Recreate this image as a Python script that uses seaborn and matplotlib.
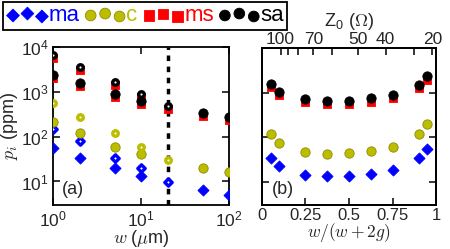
import numpy as np
import pandas as pd
import matplotlib
matplotlib.use("Agg")
import matplotlib.pyplot as plt
from matplotlib.ticker import FixedLocator, FuncFormatter, NullLocator
import seaborn as sns

# left panel: loss participation vs centre width w (um)
w_open = [1, 2, 5, 10, 20]
w_fill = [1, 2, 5, 10, 50, 100]
ma_open = [152, 81, 34, 19.5, 9.5]
ma_fill = [57, 34, 19.5, 13, 6.6, 5.1]
c_open = [575, 277, 123, 60, 29.5]
c_fill = [215, 123, 60, 42, 20.4, 16.7]
ms_open = [5600, 3000, 1400, 780, 420]
ms_fill = [2000, 1350, 780, 540, 290, 240]
sa_open = [6600, 3600, 1660, 910, 490]
sa_fill = [2400, 1580, 910, 630, 340, 280]

# right panel: vs w/(w+2g)
ratio = [0.05, 0.1, 0.25, 0.375, 0.5, 0.625, 0.75, 0.9, 0.95]
ma_r = [34, 22, 14.4, 13.2, 13.6, 14.8, 18.5, 34, 54]
c_r = [120, 74, 47, 42, 43.5, 49, 60, 115, 195]
ms_r = [1320, 900, 620, 550, 560, 630, 760, 1260, 1950]
sa_r = [1550, 1050, 730, 645, 660, 745, 890, 1480, 2300]

# impedance axis on top of right panel
z0_pos = [0.107, 0.151, 0.209, 0.295, 0.404, 0.55, 0.711, 0.875, 0.979]
z0_lab = ['100', '', '', '70', '', '50', '40', '', '20']

BLUE = '#0000ff'
YEL = '#bdbd00'
YEL_EDGE = '#8c8c00'
RED = '#ff0000'
BLK = '#000000'

sns.set_style("ticks")
plt.rcParams['font.family'] = ['Liberation Sans', 'DejaVu Sans']
plt.rcParams['mathtext.fontset'] = 'cm'
plt.rcParams['axes.linewidth'] = 1.3

fig = plt.figure(figsize=(4.5, 2.49), dpi=100)
ax1 = fig.add_axes([0.118, 0.177, 0.391, 0.634])
ax2 = fig.add_axes([0.582, 0.177, 0.387, 0.630])


def dots(ax, x, y, color, marker, s, hollow=False, edge=None):
    if hollow:
        sns.scatterplot(x=x, y=y, ax=ax, marker=marker, s=s, color='white',
                        edgecolor=color, linewidth=2.4, zorder=3)
    else:
        sns.scatterplot(x=x, y=y, ax=ax, marker=marker, s=s, color=color,
                        edgecolor=edge or color, linewidth=0.6, zorder=3)
    return ax.collections[-1]


# left panel
dots(ax1, w_fill, ma_fill, BLUE, 'D', 32)
dots(ax1, w_open, ma_open, BLUE, 'D', 14, hollow=True)
dots(ax1, w_fill, c_fill, YEL, 'o', 45, edge=YEL_EDGE)
dots(ax1, w_open, c_open, YEL, 'o', 16, hollow=True)
dots(ax1, w_fill, ms_fill, RED, 's', 40)
dots(ax1, w_open, ms_open, RED, 's', 40)
dots(ax1, w_fill, sa_fill, BLK, 'o', 45)
dots(ax1, w_open, sa_open, BLK, 'o', 16, hollow=True)
ax1.axvline(20, color='k', lw=2.5, ls=(0, (1.6, 1.6)), zorder=2)

ax1.set_xscale('log')
ax1.set_yscale('log')
ax1.set_xlim(1, 100)
ax1.set_ylim(3, 1e4)
ax1.xaxis.set_major_locator(FixedLocator([1, 10, 100]))
ax1.yaxis.set_major_locator(FixedLocator([10, 100, 1000, 10000]))
ax1.xaxis.set_minor_locator(NullLocator())
ax1.yaxis.set_minor_locator(NullLocator())
pow10 = FuncFormatter(lambda v, p: r'$\mathregular{10^{%d}}$' % round(np.log10(v)))
ax1.xaxis.set_major_formatter(pow10)
ax1.yaxis.set_major_formatter(pow10)
ax1.set_xlabel(r'$w$ ($\mu$m)', fontsize=13, labelpad=-1)
ax1.set_ylabel(r'$p_i$ (ppm)', fontsize=13, labelpad=1)
ax1.text(0.05, 0.1, '(a)', transform=ax1.transAxes, fontsize=13, va='center')

# right panel
h_ma = dots(ax2, ratio, ma_r, BLUE, 'D', 32)
h_c = dots(ax2, ratio, c_r, YEL, 'o', 45, edge=YEL_EDGE)
h_ms = dots(ax2, ratio, ms_r, RED, 's', 40)
h_sa = dots(ax2, ratio, sa_r, BLK, 'o', 45)

ax2.set_yscale('log')
ax2.set_xlim(0, 1)
ax2.set_ylim(3, 1e4)
ax2.yaxis.set_major_locator(FixedLocator([10, 100, 1000, 10000]))
ax2.yaxis.set_minor_locator(NullLocator())
ax2.set_xticks([0, 0.25, 0.5, 0.75, 1])
ax2.set_xticklabels(['0', '0.25', '0.5', '0.75', '1'])
ax2.set_xlabel(r'$w/(w+2g)$', fontsize=12.5, labelpad=-1)
ax2.set_ylabel('')
ax2.text(0.12, 0.1, '(b)', transform=ax2.transAxes, fontsize=13,
         va='center', ha='center')

top = ax2.twiny()
top.set_xlim(0, 1)
top.set_xticks(z0_pos)
top.set_xticklabels(z0_lab)
top.set_xlabel(r'Z$_\mathregular{0}$ ($\Omega$)', fontsize=13, labelpad=4)

for ax in (ax1, ax2):
    ax.tick_params(direction='in', length=5, width=1.3, labelsize=12.5,
                   top=True, right=True, pad=3)
ax2.tick_params(labelleft=False, top=False, labelsize=12, pad=2)
top.tick_params(direction='in', length=5, width=1.3, labelsize=12.5, pad=1)
for ax in (ax1, ax2, top):
    for sp in ax.spines.values():
        sp.set_color('k')
        sp.set_linewidth(1.3)

leg = fig.legend([h_ma, h_c, h_ms, h_sa], ['ma', 'c', 'ms', 'sa'],
                 loc='upper left', bbox_to_anchor=(3 / 450, 1 - 2 / 249),
                 ncol=4, fontsize=16, frameon=True, fancybox=False,
                 edgecolor='k', framealpha=1, borderpad=0.15,
                 handletextpad=0.0, columnspacing=0.2, handlelength=1.9,
                 scatterpoints=3, borderaxespad=0, markerscale=1.15)
leg.get_frame().set_linewidth(1.3)
for t, c in zip(leg.get_texts(), [BLUE, YEL, RED, BLK]):
    t.set_color(c)

fig.savefig('out.png', dpi=100)
